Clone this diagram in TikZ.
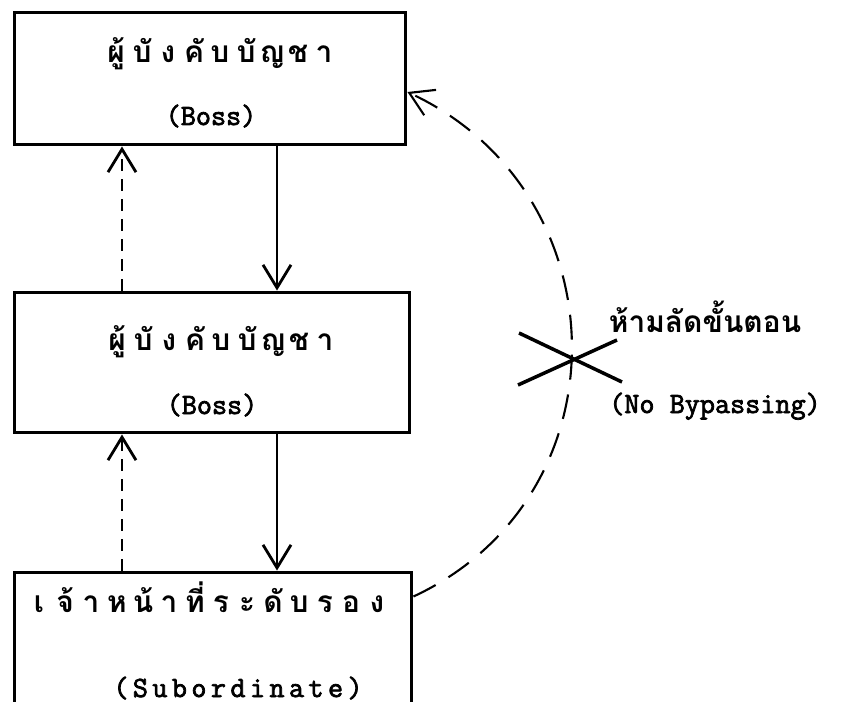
\documentclass[tikz,border=0pt]{standalone}
\usepackage{fontspec}
\newfontfamily\thaifont[Script=Thai]{Loma}
\newfontfamily\typew[FakeBold=2.5]{Latin Modern Mono}
\usetikzlibrary{positioning, arrows.meta}
% one typewriter cell per Thai cluster
\newcommand{\thc}[1]{\makebox[0.52cm]{#1}}

\begin{document}
\begin{tikzpicture}[x=0.02cm, y=0.02cm,
  box/.style={draw, line width=1.7pt, inner sep=0pt},
  th/.style={font=\thaifont\bfseries\fontsize{17}{20}\selectfont, anchor=base, inner sep=0pt},
  en/.style={font=\typew\fontsize{16.7}{20}\selectfont, anchor=base, inner sep=0pt},
  lbl/.style={font=\thaifont\bfseries\fontsize{17}{20}\selectfont, anchor=base, inner sep=0pt},
  down/.style={line width=1.6pt, -{Straight Barb[length=4.6mm, width=5.6mm]}},
  up/.style={down, dash pattern=on 0.24cm off 0.16cm},
  skip/.style={line width=1.2pt, dash pattern=on 0.5cm off 0.3cm, -{Straight Barb[length=4.6mm, width=5.6mm]}},
  cut/.style={line width=2pt}]
\useasboundingbox (0,0) rectangle (841,-702);
\node[box, minimum width=7.84cm, minimum height=2.66cm] (boss) at (210,-78.5) {};
\node[box, minimum width=7.92cm, minimum height=2.82cm] (mid) at (212,-362.5) {};
\node[box, minimum width=7.96cm, minimum height=2.82cm] (sub) at (213,-642.5) {};
\node[th] (bossth) at (220,-63) {\thc{ผู้}\thc{บั}\thc{ง}\thc{คั}\thc{บ}\thc{บั}\thc{ญ}\thc{ช}\thc{า}};
\node[en] (bossen) at (211,-125) {(Boss)};
\node[th] (midth) at (221,-350) {\thc{ผู้}\thc{บั}\thc{ง}\thc{คั}\thc{บ}\thc{บั}\thc{ญ}\thc{ช}\thc{า}};
\node[en] (miden) at (212,-414) {(Boss)};
\node[th] (subth) at (208,-612) {\thc{เ}\thc{จ้}\thc{า}\thc{ห}\thc{น้}\thc{า}\thc{ที่}\thc{ร}\thc{ะ}\thc{ดั}\thc{บ}\thc{ร}\thc{อ}\thc{ง}};
\node[en, font=\typew\fontsize{16.7}{20}\selectfont\addfontfeature{LetterSpace=15}] (suben) at (238,-697) {(Subordinate)};
\coordinate (dn) at (277,0);
\coordinate (upx) at (122,0);
\draw[down] (boss.south -| dn) -- (mid.north -| dn);
\draw[down] (mid.south -| dn) -- (sub.north -| dn);
\draw[up] (mid.north -| upx) -- (boss.south -| upx);
\draw[up] (sub.north -| upx) -- (mid.south -| upx);
\draw[skip] ([yshift=-0.52cm]sub.north east) to[out=25, in=-25, looseness=1.2] ([yshift=-0.27cm]boss.east);
% the crossed-out path
\coordinate (x) at (571,-359);
\draw[cut] (x) ++(-52,26) -- ++(103,-49);
\draw[cut] (x) ++(-53,-26) -- ++(99,45);
\node[lbl] (noth) at (705,-333) {ห้ามลัดขั้นตอน};
\node[en] (noen) at (715,-413) {(No Bypassing)};
\end{tikzpicture}
\end{document}
